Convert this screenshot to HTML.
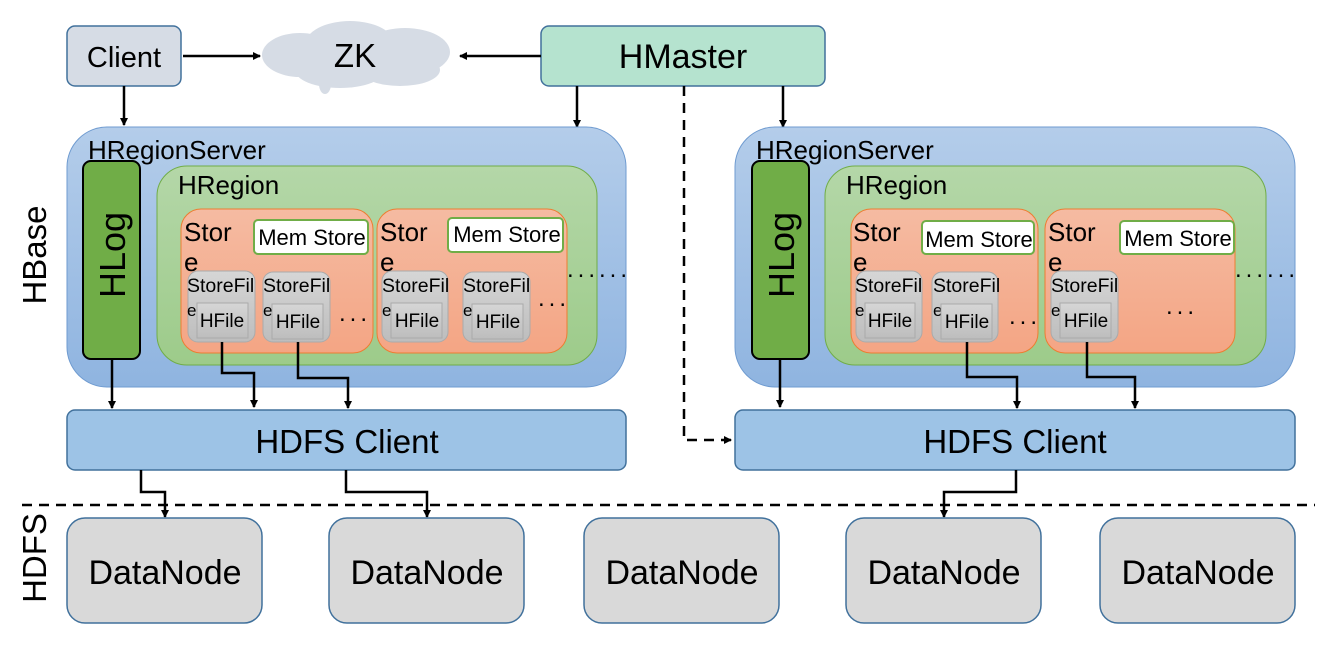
<!DOCTYPE html>
<html><head><meta charset="utf-8"><style>
html,body{margin:0;padding:0;background:#fff;}
svg{display:block;font-family:"Liberation Sans",Arial,sans-serif;}
</style></head><body>
<svg width="1322" height="656" viewBox="0 0 1322 656" xmlns="http://www.w3.org/2000/svg">
<defs>
<marker id="ah" markerWidth="8" markerHeight="8" refX="7" refY="4" orient="auto" markerUnits="userSpaceOnUse"><path d="M0,0 L8,4 L0,8 z" fill="#000"/></marker>
<linearGradient id="gb" x1="0" y1="0" x2="0" y2="1"><stop offset="0" stop-color="#b4cdea"/><stop offset="1" stop-color="#8fb4e0"/></linearGradient>
<linearGradient id="gg" x1="0" y1="0" x2="0" y2="1"><stop offset="0" stop-color="#b4d7a8"/><stop offset="1" stop-color="#9dcb8a"/></linearGradient>
<linearGradient id="go" x1="0" y1="0" x2="0" y2="1"><stop offset="0" stop-color="#f5bba2"/><stop offset="1" stop-color="#f4a584"/></linearGradient>
<linearGradient id="gs" x1="0" y1="0" x2="0" y2="1"><stop offset="0" stop-color="#d6d6d6"/><stop offset="1" stop-color="#bdbdbd"/></linearGradient>
</defs>

<rect x="67" y="26" width="114" height="60" rx="8" fill="#d6dce5" stroke="#41719c" stroke-width="1.5"/>
<text x="124" y="67" font-size="29" text-anchor="middle">Client</text>
<g fill="#d6dce5">
<ellipse cx="300" cy="55" rx="38" ry="22"/><ellipse cx="350" cy="45" rx="45" ry="24"/><ellipse cx="405" cy="52" rx="45" ry="24"/><ellipse cx="340" cy="70" rx="45" ry="18"/><ellipse cx="400" cy="70" rx="40" ry="16"/><ellipse cx="325" cy="84" rx="6" ry="10"/>
</g>
<text x="355" y="67" font-size="33" text-anchor="middle">ZK</text>
<rect x="541" y="26" width="284" height="60" rx="8" fill="#b5e3cf" stroke="#41719c" stroke-width="1.5"/>
<text x="683" y="68" font-size="34" text-anchor="middle">HMaster</text>

<g stroke="#000" stroke-width="2.5" fill="none">
<line x1="183" y1="56" x2="260" y2="56" marker-end="url(#ah)"/>
<line x1="541" y1="56" x2="460" y2="56" marker-end="url(#ah)"/>
<line x1="124" y1="86" x2="124" y2="125" marker-end="url(#ah)"/>
<line x1="577" y1="86" x2="577" y2="127" marker-end="url(#ah)"/>
<line x1="783" y1="86" x2="783" y2="127" marker-end="url(#ah)"/>
<polyline points="684,86 684,440 731,440" stroke-dasharray="10,7" marker-end="url(#ah)"/>
</g>

<g>
<rect x="67" y="127" width="559" height="260" rx="40" fill="url(#gb)" stroke="#6f9bd0" stroke-width="1"/>
<text x="88" y="159" font-size="26">HRegionServer</text>
<rect x="83" y="161" width="57" height="198" rx="8" fill="#70ad47" stroke="#000" stroke-width="2"/>
<text transform="translate(125,255) rotate(-90)" font-size="36" text-anchor="middle">HLog</text>
<rect x="157" y="166" width="440" height="199" rx="30" fill="url(#gg)" stroke="#70ad47" stroke-width="1"/>
<text x="178" y="194" font-size="26">HRegion</text>
<rect x="181" y="209" width="192" height="144" rx="20" fill="url(#go)" stroke="#ed7d31" stroke-width="1"/>
<text x="184" y="241" font-size="26">Stor</text><text x="184" y="271" font-size="26">e</text>
<rect x="254" y="220" width="114" height="34" rx="4" fill="#fff" stroke="#70ad47" stroke-width="2"/>
<text x="312" y="245" font-size="22" text-anchor="middle">Mem Store</text>
<rect x="188" y="271" width="67" height="71" rx="10" fill="url(#gs)" stroke="#aaa"/>
<text x="187" y="292" font-size="19.5">StoreFil</text><text x="187" y="316" font-size="17">e</text>
<rect x="197" y="303" width="51" height="35" fill="url(#gs)" stroke="#aaa"/>
<text x="222" y="327" font-size="19" text-anchor="middle">HFile</text>
<rect x="263" y="272" width="67" height="70" rx="10" fill="url(#gs)" stroke="#aaa"/>
<text x="263" y="292" font-size="19.5">StoreFil</text><text x="263" y="316" font-size="17">e</text>
<rect x="272" y="304" width="51" height="35" fill="url(#gs)" stroke="#aaa"/>
<text x="298" y="328" font-size="19" text-anchor="middle">HFile</text>
<text x="339" y="321" font-size="24" letter-spacing="4">...</text>
<rect x="377" y="209" width="190" height="144" rx="20" fill="url(#go)" stroke="#ed7d31" stroke-width="1"/>
<text x="380" y="241" font-size="26">Stor</text><text x="380" y="271" font-size="26">e</text>
<rect x="448" y="218" width="115" height="34" rx="4" fill="#fff" stroke="#70ad47" stroke-width="2"/>
<text x="507" y="242" font-size="22" text-anchor="middle">Mem Store</text>
<rect x="382" y="271" width="66" height="71" rx="10" fill="url(#gs)" stroke="#aaa"/>
<text x="382" y="292" font-size="19.5">StoreFil</text><text x="382" y="316" font-size="17">e</text>
<rect x="391" y="303" width="51" height="35" fill="url(#gs)" stroke="#aaa"/>
<text x="417" y="327" font-size="19" text-anchor="middle">HFile</text>
<rect x="463" y="272" width="67" height="70" rx="10" fill="url(#gs)" stroke="#aaa"/>
<text x="463" y="292" font-size="19.5">StoreFil</text><text x="463" y="316" font-size="17">e</text>
<rect x="472" y="304" width="51" height="35" fill="url(#gs)" stroke="#aaa"/>
<text x="498" y="328" font-size="19" text-anchor="middle">HFile</text>
<text x="538" y="306" font-size="24" letter-spacing="4">...</text>
<text x="567" y="277" font-size="24" letter-spacing="4">......</text>
</g>

<g>
<rect x="735" y="127" width="560" height="260" rx="40" fill="url(#gb)" stroke="#6f9bd0" stroke-width="1"/>
<text x="756" y="159" font-size="26">HRegionServer</text>
<rect x="752" y="161" width="57" height="198" rx="8" fill="#70ad47" stroke="#000" stroke-width="2"/>
<text transform="translate(794,255) rotate(-90)" font-size="36" text-anchor="middle">HLog</text>
<rect x="825" y="166" width="441" height="199" rx="30" fill="url(#gg)" stroke="#70ad47" stroke-width="1"/>
<text x="846" y="194" font-size="26">HRegion</text>
<rect x="851" y="209" width="187" height="144" rx="20" fill="url(#go)" stroke="#ed7d31" stroke-width="1"/>
<text x="853" y="241" font-size="26">Stor</text><text x="853" y="271" font-size="26">e</text>
<rect x="922" y="221" width="112" height="33" rx="4" fill="#fff" stroke="#70ad47" stroke-width="2"/>
<text x="979" y="247" font-size="22" text-anchor="middle">Mem Store</text>
<rect x="856" y="271" width="66" height="71" rx="10" fill="url(#gs)" stroke="#aaa"/>
<text x="855" y="292" font-size="19.5">StoreFil</text><text x="855" y="316" font-size="17">e</text>
<rect x="865" y="303" width="50" height="35" fill="url(#gs)" stroke="#aaa"/>
<text x="890" y="327" font-size="19" text-anchor="middle">HFile</text>
<rect x="932" y="272" width="66" height="70" rx="10" fill="url(#gs)" stroke="#aaa"/>
<text x="933" y="292" font-size="19.5">StoreFil</text><text x="933" y="316" font-size="17">e</text>
<rect x="941" y="304" width="51" height="35" fill="url(#gs)" stroke="#aaa"/>
<text x="967" y="328" font-size="19" text-anchor="middle">HFile</text>
<text x="1009" y="324" font-size="24" letter-spacing="4">...</text>
<rect x="1045" y="209" width="190" height="144" rx="20" fill="url(#go)" stroke="#ed7d31" stroke-width="1"/>
<text x="1048" y="241" font-size="26">Stor</text><text x="1048" y="271" font-size="26">e</text>
<rect x="1120" y="221" width="114" height="33" rx="4" fill="#fff" stroke="#70ad47" stroke-width="2"/>
<text x="1178" y="246" font-size="22" text-anchor="middle">Mem Store</text>
<rect x="1051" y="271" width="67" height="71" rx="10" fill="url(#gs)" stroke="#aaa"/>
<text x="1051" y="292" font-size="19.5">StoreFil</text><text x="1051" y="316" font-size="17">e</text>
<rect x="1060" y="303" width="51" height="35" fill="url(#gs)" stroke="#aaa"/>
<text x="1086" y="327" font-size="19" text-anchor="middle">HFile</text>
<text x="1166" y="314" font-size="24" letter-spacing="4">...</text>
<text x="1235" y="277" font-size="24" letter-spacing="4">......</text>
</g>

<rect x="67" y="410" width="559" height="60" rx="8" fill="#9dc3e6" stroke="#41719c" stroke-width="1.5"/>
<text x="347" y="453" font-size="33" text-anchor="middle">HDFS Client</text>
<rect x="735" y="410" width="560" height="60" rx="8" fill="#9dc3e6" stroke="#41719c" stroke-width="1.5"/>
<text x="1015" y="453" font-size="33" text-anchor="middle">HDFS Client</text>

<g stroke="#000" stroke-width="2.5" fill="none">
<line x1="112" y1="359" x2="112" y2="408" marker-end="url(#ah)"/>
<polyline points="222,342 222,373 254,373 254,407" marker-end="url(#ah)"/>
<polyline points="298,342 298,378 348,378 348,408" marker-end="url(#ah)"/>
<line x1="780" y1="359" x2="780" y2="407" marker-end="url(#ah)"/>
<polyline points="967,342 967,377 1017,377 1017,408" marker-end="url(#ah)"/>
<polyline points="1087,342 1087,377 1135,377 1135,408" marker-end="url(#ah)"/>
<polyline points="141,470 141,492 165,492 165,517" marker-end="url(#ah)"/>
<polyline points="346,470 346,492 427,492 427,517" marker-end="url(#ah)"/>
<polyline points="1016,470 1016,492 944,492 944,517" marker-end="url(#ah)"/>
</g>
<line x1="22" y1="505" x2="1315" y2="505" stroke="#000" stroke-width="2.5" stroke-dasharray="10,7"/>

<text transform="translate(46,255) rotate(-90)" font-size="33" text-anchor="middle">HBase</text>
<text transform="translate(46,558) rotate(-90)" font-size="33" text-anchor="middle">HDFS</text>

<g fill="#d9d9d9" stroke="#41719c" stroke-width="1.5">
<rect x="67" y="518" width="195" height="105" rx="18"/>
<rect x="329" y="518" width="195" height="105" rx="18"/>
<rect x="584" y="518" width="195" height="105" rx="18"/>
<rect x="846" y="518" width="195" height="105" rx="18"/>
<rect x="1100" y="518" width="195" height="105" rx="18"/>
</g>
<g font-size="34" text-anchor="middle">
<text x="165" y="584">DataNode</text>
<text x="427" y="584">DataNode</text>
<text x="682" y="584">DataNode</text>
<text x="944" y="584">DataNode</text>
<text x="1198" y="584">DataNode</text>
</g>
</svg>
</body></html>
